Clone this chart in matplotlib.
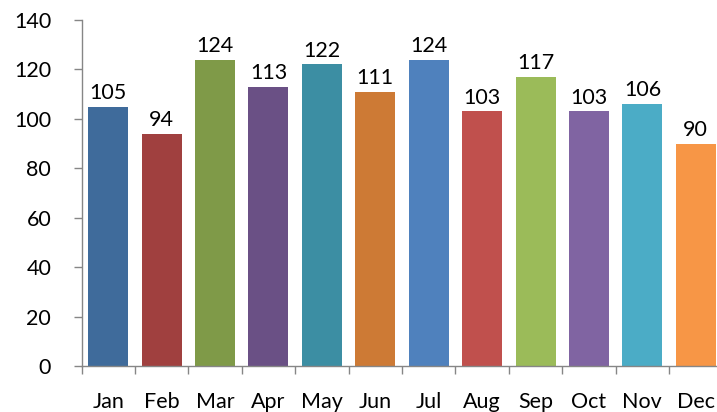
import matplotlib
matplotlib.use("Agg")
import matplotlib.pyplot as plt
import numpy as np

months = ["Jan", "Feb", "Mar", "Apr", "May", "Jun", "Jul", "Aug", "Sep", "Oct", "Nov", "Dec"]
values = [105, 94, 124, 113, 122, 111, 124, 103, 117, 103, 106, 90]
colors = ["#3F6B9B", "#A0403F", "#7F9A48", "#6A5085", "#3C8EA3", "#CD7A35",
          "#4F81BD", "#C0504D", "#9BBB59", "#8064A2", "#4BACC6", "#F79646"]
yticks = [0, 20, 40, 60, 80, 100, 120, 140]

plt.rcParams['font.family'] = ['Lato', 'DejaVu Sans']
FS = 15.5
AX = "#868686"

fig = plt.figure(figsize=(7.17, 4.12), dpi=100)
ax = fig.add_axes([81.5 / 717, (412 - 366) / 412, (722.5 - 81.5) / 717, (366 - 20) / 412])

x = np.arange(len(months))
bars = ax.bar(x, values, width=0.75, color=colors, zorder=2)
for xi, v in zip(x, values):
    ax.annotate(str(v), (xi, v), xytext=(0, 5.5), textcoords="offset points",
                ha="center", va="baseline", fontsize=FS, color="black")

ax.set_xlim(-0.5, len(months) - 0.5)
ax.set_ylim(0, 140)
ax.set_yticks(yticks)
ax.set_yticklabels([str(t) for t in yticks])

ax.set_xticks(np.arange(len(months) + 1) - 0.5)
ax.set_xticklabels([])
ax.set_xticks(x, minor=True)
ax.set_xticklabels(months, minor=True)

for s in ["top", "right"]:
    ax.spines[s].set_visible(False)
for s in ["left", "bottom"]:
    ax.spines[s].set_color(AX)
    ax.spines[s].set_linewidth(1.0)

ax.tick_params(axis="y", direction="out", length=5.8, width=1.0, color=AX,
               labelsize=FS, pad=16)
ax.tick_params(axis="x", which="major", direction="out", length=5.8, width=1.0, color=AX)
ax.tick_params(axis="x", which="minor", length=0, labelsize=FS, pad=18.5)

fig.savefig("out.png", dpi=100)
